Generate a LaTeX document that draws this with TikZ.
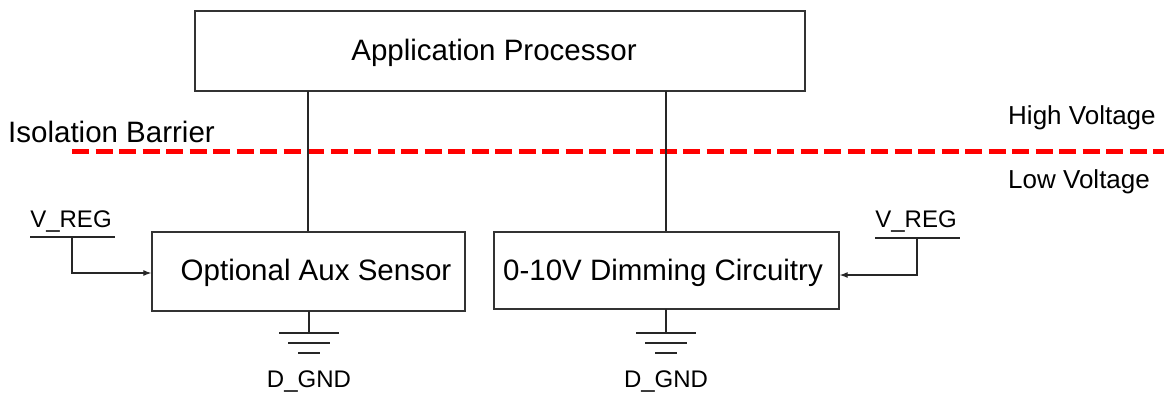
\documentclass[tikz,border=0pt]{standalone}
\usepackage{fontspec}
\setmainfont{Liberation Sans}
\usetikzlibrary{arrows.meta}
\begin{document}
\begin{tikzpicture}[x=1pt,y=-1pt,
  blk/.style={draw=black!80,line width=1.3pt,inner sep=0pt},
  lbl/.style={inner sep=0pt,font=\fontsize{29.5}{34}\selectfont},
  mid/.style={inner sep=0pt,font=\fontsize{26}{30}\selectfont},
  small/.style={inner sep=0pt,font=\fontsize{24}{28}\selectfont},
  wire/.style={draw=black!85,line width=1.2pt},
  arr/.style={wire,-{Latex[length=8pt,width=6pt]}},
  barrier/.style={draw=red,line width=5pt,dash pattern=on 17pt off 6.5pt}]
\useasboundingbox (0,0) rectangle (1164,394);
% boxes
\node[blk,minimum width=610pt,minimum height=80pt] (ap) at (500,51) {};
\node[lbl] (apt) at (494,53) {Application Processor};
\node[blk,minimum width=313pt,minimum height=79pt] (aux) at (308.5,271.5) {};
\node[lbl] (auxt) at (316,273) {Optional Aux Sensor};
\node[blk,minimum width=345pt,minimum height=77pt] (dim) at (666.5,270.5) {};
\node[lbl] (dimt) at (663,273) {0-10V Dimming Circuitry};
% barrier
\coordinate (bl) at (72,151);
\coordinate (br) at (1164,151);
\draw[barrier] (bl) -- (br);
\node[lbl,anchor=west] (iso) at (8,132) {Isolation Barrier};
\node[mid,anchor=west] (hv) at (1008,118) {High Voltage};
\node[mid,anchor=west] (lv) at (1008,182) {Low Voltage};
% vertical links
\coordinate (ap1) at (308,91);
\coordinate (ap2) at (666,91);
\draw[wire] (ap1) -- (ap1 |- aux.north);
\draw[wire] (ap2) -- (ap2 |- dim.north);
% V_REG left
\node[small,anchor=south] (vr1) at (71,232) {V\_REG};
\coordinate (vr1a) at (30,237);
\coordinate (vr1b) at (115,237);
\draw[wire] (vr1a) -- (vr1b);
\coordinate (vr1c) at (72,237);
\draw[arr] (vr1c) |- (aux.west |- 0,273);
% V_REG right
\node[small,anchor=south] (vr2) at (916,232) {V\_REG};
\coordinate (vr2a) at (875,238);
\coordinate (vr2b) at (960,238);
\draw[wire] (vr2a) -- (vr2b);
\coordinate (vr2c) at (917,238);
\draw[arr] (vr2c) |- (dim.east |- 0,275);
% grounds
\foreach \n/\x/\yb in {g1/309/311,g2/666/309}{
  \coordinate (\n top) at (\x,\yb);
  \coordinate (\n) at (\x,333);
  \draw[wire] (\n top) -- (\n);
  \draw[wire] ([xshift=-30pt]\n) -- ([xshift=30pt]\n);
  \draw[wire] ([xshift=-21pt,yshift=-10pt]\n) -- ([xshift=21pt,yshift=-10pt]\n);
  \draw[wire] ([xshift=-11pt,yshift=-20pt]\n) -- ([xshift=11pt,yshift=-20pt]\n);
}
\node[small] (d1) at (309,381) {D\_GND};
\node[small] (d2) at (666,381) {D\_GND};
\end{tikzpicture}
\end{document}
